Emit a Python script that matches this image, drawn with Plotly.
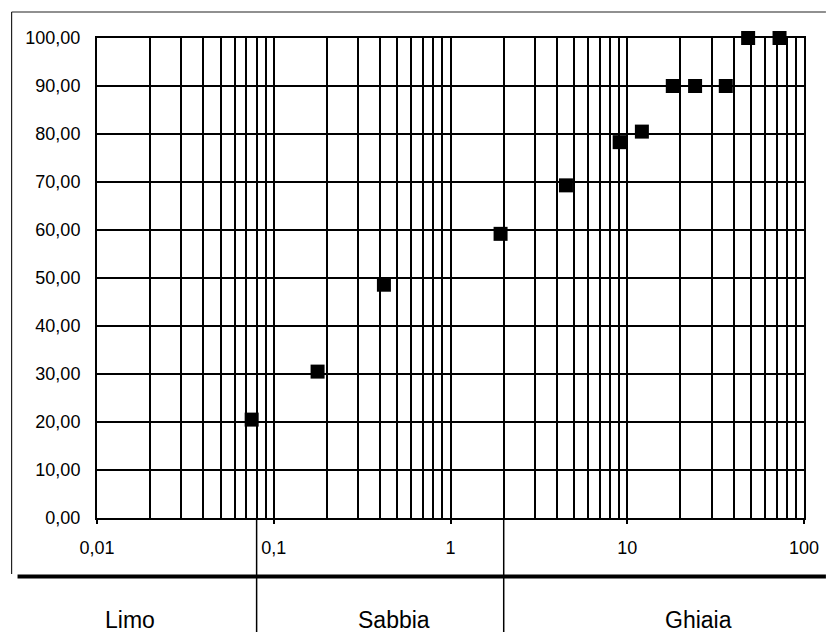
import plotly.graph_objects as go

# Grain size (mm) and percent passing
diametri = [0.075, 0.177, 0.42, 1.92, 4.5, 9.06, 12.1, 18.1, 24.2, 36.1, 48.3, 72.7]
passante = [20.5, 30.5, 48.6, 59.2, 69.3, 78.3, 80.5, 90.0, 90.0, 90.0, 100.0, 100.0]

x_tickvals = [0.01, 0.1, 1, 10, 100]
x_ticktext = ["0,01", "0,1", "1", "10", "100"]
x_minor = [m * 10 ** e for e in range(-2, 2) for m in range(2, 10)]

confini = [0.08, 2.0]                      # Limo|Sabbia, Sabbia|Ghiaia
classi = ["Limo", "Sabbia", "Ghiaia"]
classi_xpaper = [0.0463, 0.42, 0.851]

FONT = "Liberation Sans, Arial, sans-serif"

fig = go.Figure()
fig.add_trace(go.Scatter(
    x=diametri, y=passante, mode="markers",
    marker=dict(symbol="square", size=14, color="black", line=dict(width=0)),
    cliponaxis=False, showlegend=False,
))

fig.update_xaxes(
    type="log", range=[-2, 2],
    tickvals=x_tickvals, ticktext=x_ticktext,
    showgrid=True, gridcolor="black", gridwidth=1.5,
    minor=dict(tickvals=x_minor, showgrid=True, gridcolor="black", gridwidth=1.5, ticks=""),
    showline=True, linecolor="black", linewidth=2, mirror=True,
    ticks="outside", ticklen=4, tickcolor="black", tickwidth=1.5,
    ticklabelstandoff=8,
    tickfont=dict(family=FONT, size=18, color="black"),
    zeroline=False,
)
fig.update_yaxes(
    range=[0, 100], dtick=10, tickformat=".2f",
    showgrid=True, gridcolor="black", gridwidth=1.5,
    showline=True, linecolor="black", linewidth=2, mirror=True,
    ticks="", ticklabelstandoff=11,
    tickfont=dict(family=FONT, size=18, color="black"),
    zeroline=False,
)

shapes = []
# dividers between soil classes
for c in confini:
    shapes.append(dict(type="line", xref="x", yref="paper", x0=c, x1=c, y0=0, y1=-0.2375,
                       line=dict(color="black", width=1.5)))
# outer frame: top, left, thick bottom
shapes.append(dict(type="line", xref="paper", yref="paper", x0=-0.1208, x1=1.031, y0=1.0542, y1=1.0542,
                   line=dict(color="#222", width=1.2)))
shapes.append(dict(type="line", xref="paper", yref="paper", x0=-0.1208, x1=-0.1208, y0=1.0542, y1=-0.1167,
                   line=dict(color="#222", width=1.2)))
shapes.append(dict(type="line", xref="paper", yref="paper", x0=-0.1124, x1=1.031, y0=-0.1219, y1=-0.1219,
                   line=dict(color="black", width=4)))

annotations = []
for nome, xp in zip(classi, classi_xpaper):
    annotations.append(dict(text=nome, xref="paper", yref="paper", x=xp, y=-0.2125,
                            xanchor="center", yanchor="middle", showarrow=False,
                            font=dict(family=FONT, size=23, color="black")))

fig.update_layout(
    width=831, height=632,
    margin=dict(l=97, r=22, t=38, b=114),
    paper_bgcolor="white", plot_bgcolor="white",
    separators=",.",
    shapes=shapes, annotations=annotations,
    showlegend=False,
)

fig.write_html("out.html")
